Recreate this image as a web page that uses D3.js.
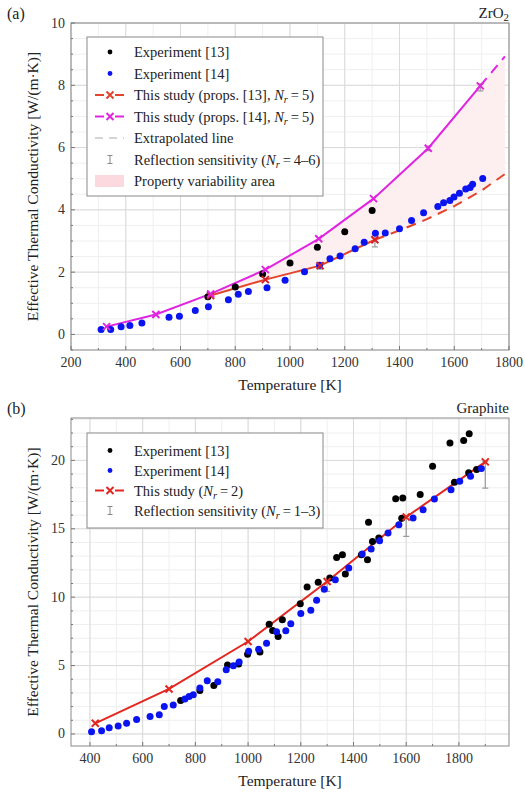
<!DOCTYPE html>
<meta charset="utf-8">
<script src="https://cdn.jsdelivr.net/npm/d3@7"></script>
<style>
  body { margin: 0; background: #fff; }
</style>
<div id="chart"></div>
<script>
// ---- panel (a) ZrO2 ----
var zrExp13T = [700, 800, 900, 1000, 1100, 1200, 1300];
var zrExp13K = [1.21, 1.52, 1.94, 2.29, 2.80, 3.30, 3.98];

var zrExp14T = [310, 345, 383, 415, 459, 558, 596, 654, 702, 775, 811, 848, 916, 982,
                1053, 1108, 1146, 1183, 1238, 1271, 1312, 1348, 1400, 1444, 1488, 1540,
                1561, 1584, 1599, 1619, 1642, 1658, 1667, 1704];
var zrExp14K = [0.16, 0.16, 0.25, 0.29, 0.37, 0.55, 0.58, 0.77, 0.89, 1.11, 1.29, 1.38, 1.50, 1.74,
                2.01, 2.22, 2.43, 2.52, 2.75, 2.96, 3.25, 3.26, 3.39, 3.66, 3.91, 4.11,
                4.23, 4.30, 4.41, 4.53, 4.67, 4.72, 4.82, 5.01];

var zrModel13T = [710, 910, 1110, 1310];
var zrModel13K = [1.25, 1.76, 2.21, 3.04];
var zrModel14T = [330, 510, 710, 910, 1105, 1305, 1505, 1695];
var zrModel14K = [0.25, 0.64, 1.30, 2.08, 3.07, 4.36, 5.98, 7.98];

var zrExtra13T = [1310, 1400, 1500, 1600, 1700, 1785];
var zrExtra13K = [3.04, 3.34, 3.70, 4.12, 4.62, 5.15];
var zrExtra14T = [1695, 1785];
var zrExtra14K = [7.98, 8.93];

var zrErrT  = [1110, 1310, 1505, 1695];
var zrErrLo = [2.10, 2.81, 5.90, 7.82];
var zrErrHi = [2.30, 3.20, 6.05, 8.05];

// ---- panel (b) graphite ----
var grExp13T = [744, 817, 870, 922, 964, 998, 1045, 1080, 1093, 1114, 1130, 1198, 1224, 1266,
                1310, 1336, 1358, 1369, 1430, 1453, 1457, 1472, 1496, 1560, 1587, 1583, 1653,
                1700, 1766, 1783, 1818, 1839, 1837, 1867];
var grExp13K = [2.44, 3.17, 3.54, 5.05, 5.12, 5.83, 6.00, 8.03, 7.56, 7.12, 8.35, 9.52, 10.74, 11.10,
                11.40, 12.90, 13.10, 11.69, 13.10, 12.74, 15.47, 14.08, 14.33, 17.20, 17.25, 15.77, 17.50,
                19.57, 21.28, 18.40, 21.46, 21.95, 19.10, 19.33];

var grExp14T = [406, 444, 473, 507, 539, 577, 628, 663, 682, 716, 760, 776, 792, 817, 845, 885,
                917, 944, 966, 1002, 1040, 1070, 1108, 1143, 1162, 1200, 1238, 1260, 1289, 1331,
                1382, 1433, 1467, 1499, 1531, 1572, 1626, 1664, 1707, 1770, 1803, 1844, 1885];
var grExp14K = [0.17, 0.24, 0.46, 0.59, 0.78, 1.05, 1.27, 1.41, 2.00, 2.12, 2.56, 2.73, 2.87, 3.36, 3.89, 3.82,
                4.69, 4.98, 5.26, 6.05, 6.20, 6.64, 7.47, 7.54, 8.06, 8.80, 9.05, 9.78, 10.58, 11.27,
                12.13, 13.16, 13.52, 14.13, 14.69, 15.30, 15.79, 16.40, 17.18, 17.86, 18.47, 18.84, 19.40];

var grModelT = [420, 700, 1000, 1300, 1600, 1900];
var grModelK = [0.78, 3.29, 6.76, 11.15, 15.86, 19.89];

var grErrT  = [1300, 1600, 1900];
var grErrLo = [10.42, 14.45, 17.98];
var grErrHi = [11.27, 15.90, 19.93];

// ticks
var zrXTicks = [200, 400, 600, 800, 1000, 1200, 1400, 1600, 1800];
var zrYTicks = [0, 2, 4, 6, 8, 10];
var grXTicks = [400, 600, 800, 1000, 1200, 1400, 1600, 1800];
var grYTicks = [0, 5, 10, 15, 20];

var RED = "#e3261f", RED_A = "#e2452c", MAG = "#e024e0", BLUE = "#0a14f0", GREY = "#9a9a9a";
var SERIF = "'Liberation Serif', 'Times New Roman', Times, 'DejaVu Serif', serif";

function pts(T, K) { return T.map(function (t, i) { return {t: t, k: K[i]}; }); }
function range(a, b, s) { var r = []; for (var v = a; v <= b + 1e-9; v += s) r.push(+v.toFixed(4)); return r; }

var svg = d3.select("#chart").append("svg").attr("width", 525).attr("height", 794)
  .attr("font-family", SERIF).style("font-family", SERIF);

// writes a label with italic N and subscript r parts
function richText(sel, parts) {
  parts.forEach(function (p) {
    var ts = sel.append("tspan").text(p.t);
    if (p.i) ts.style("font-style", "italic");
    if (p.sub) ts.attr("font-size", "0.72em").attr("dy", 3);
    if (p.up) ts.attr("dy", -3);
  });
}

function drawPanel(cfg) {
  var g = svg.append("g");
  var x = d3.scaleLinear().domain(cfg.xDomain).range([71, 509]);
  var y = d3.scaleLinear().domain(cfg.yDomain).range([cfg.bottom, cfg.top]);
  var line = d3.line().x(function (d) { return x(d.t); }).y(function (d) { return y(d.k); });

  var clipId = "clip" + cfg.id;
  g.append("clipPath").attr("id", clipId).append("rect")
    .attr("x", 71).attr("y", cfg.top).attr("width", 438).attr("height", cfg.bottom - cfg.top);

  // grid
  var grid = g.append("g");
  var xMin = range(cfg.xMinor[0], cfg.xMinor[1], cfg.xMinor[2]);
  var yMin = range(cfg.yMinor[0], cfg.yMinor[1], cfg.yMinor[2]);
  grid.selectAll(".vx").data(xMin).enter().append("line")
    .attr("x1", function (d) { return x(d); }).attr("x2", function (d) { return x(d); })
    .attr("y1", cfg.top).attr("y2", cfg.bottom).attr("stroke", "#efefef");
  grid.selectAll(".hy").data(yMin).enter().append("line")
    .attr("y1", function (d) { return y(d); }).attr("y2", function (d) { return y(d); })
    .attr("x1", 71).attr("x2", 509).attr("stroke", "#efefef");
  grid.selectAll(".vX").data(cfg.xTicks).enter().append("line")
    .attr("x1", function (d) { return x(d); }).attr("x2", function (d) { return x(d); })
    .attr("y1", cfg.top).attr("y2", cfg.bottom).attr("stroke", "#dadada");
  grid.selectAll(".hY").data(cfg.yTicks).enter().append("line")
    .attr("y1", function (d) { return y(d); }).attr("y2", function (d) { return y(d); })
    .attr("x1", 71).attr("x2", 509).attr("stroke", "#dadada");

  var plot = g.append("g").attr("clip-path", "url(#" + clipId + ")");
  if (cfg.draw) cfg.draw(plot, x, y, line);

  // frame and small inner ticks
  g.append("rect").attr("x", 71).attr("y", cfg.top).attr("width", 438)
    .attr("height", cfg.bottom - cfg.top).attr("fill", "none").attr("stroke", "#8a8a8a");
  g.selectAll(".tx").data(xMin).enter().append("line")
    .attr("x1", function (d) { return x(d); }).attr("x2", function (d) { return x(d); })
    .attr("y1", cfg.bottom).attr("y2", function (d) { return cfg.xTicks.indexOf(d) >= 0 ? cfg.bottom - 4 : cfg.bottom - 2; })
    .attr("stroke", "#777");
  g.selectAll(".ty").data(yMin).enter().append("line")
    .attr("y1", function (d) { return y(d); }).attr("y2", function (d) { return y(d); })
    .attr("x1", 71).attr("x2", function (d) { return cfg.yTicks.indexOf(d) >= 0 ? 75 : 73; })
    .attr("stroke", "#777");

  // tick labels
  g.selectAll(".xl").data(cfg.xTicks).enter().append("text")
    .attr("x", function (d) { return x(d); }).attr("y", cfg.bottom + 17)
    .attr("text-anchor", "middle").attr("font-size", 14).attr("fill", "#333").text(function (d) { return d; });
  g.selectAll(".yl").data(cfg.yTicks).enter().append("text")
    .attr("x", 65).attr("y", function (d) { return y(d) + 4.5; })
    .attr("text-anchor", "end").attr("font-size", 14).attr("fill", "#333").text(function (d) { return d; });

  // axis titles
  g.append("text").attr("x", 290).attr("y", cfg.bottom + 40).attr("text-anchor", "middle")
    .attr("font-size", 15.5).attr("fill", "#222").text("Temperature [K]");
  g.append("text").attr("transform", "translate(38," + ((cfg.top + cfg.bottom) / 2) + ") rotate(-90)")
    .attr("text-anchor", "middle").attr("font-size", 15.5).attr("fill", "#222")
    .text("Effective Thermal Conductivity [W/(m\u00b7K)]");

  // panel letter and material
  g.append("text").attr("x", 7).attr("y", cfg.top - 4).attr("font-size", 16).attr("fill", "#222").text(cfg.letter);
  var mt = g.append("text").attr("x", 509).attr("y", cfg.top - 5).attr("text-anchor", "end")
    .attr("font-size", 15).attr("fill", "#222");
  richText(mt, cfg.material);

  // legend
  var lg = g.append("g");
  lg.append("rect").attr("x", 87).attr("y", cfg.legTop).attr("width", 236)
    .attr("height", (cfg.legend.length - 1) * cfg.legStep + 2 * cfg.legPad)
    .attr("fill", "#fff").attr("stroke", "#8a8a8a");
  cfg.legend.forEach(function (it, i) {
    var cy = cfg.legTop + cfg.legPad + i * cfg.legStep;
    var row = lg.append("g");
    if (it.type === "dot") {
      row.append("circle").attr("cx", 110).attr("cy", cy).attr("r", 2.4).attr("fill", it.color);
    } else if (it.type === "linex") {
      row.append("line").attr("x1", 95).attr("x2", 124).attr("y1", cy).attr("y2", cy)
        .attr("stroke", it.color).attr("stroke-width", 2).attr("stroke-dasharray", "9,11");
      row.append("path").attr("transform", "translate(110," + cy + ")")
        .attr("d", "M-3.5,-3.5L3.5,3.5M-3.5,3.5L3.5,-3.5").attr("stroke", it.color).attr("stroke-width", 2);
    } else if (it.type === "dash") {
      row.append("line").attr("x1", 95).attr("x2", 124).attr("y1", cy).attr("y2", cy)
        .attr("stroke", "#c8c8c8").attr("stroke-width", 1.5).attr("stroke-dasharray", "8,6");
    } else if (it.type === "err") {
      row.append("path").attr("d", "M107.5," + (cy - 4) + "H112.5M110," + (cy - 4) + "V" + (cy + 4) + "M107.5," + (cy + 4) + "H112.5")
        .attr("stroke", "#888").attr("stroke-width", 1).attr("fill", "none");
    } else if (it.type === "area") {
      row.append("rect").attr("x", 95).attr("y", cy - 6).attr("width", 29).attr("height", 12).attr("fill", "#fbd9df");
    }
    var t = row.append("text").attr("x", 134).attr("y", cy + 5).attr("font-size", 14.5).attr("fill", "#222");
    richText(t, it.label);
  });
}

function crosses(sel, data, x, y, color) {
  sel.selectAll(null).data(data).enter().append("path")
    .attr("transform", function (d) { return "translate(" + x(d.t) + "," + y(d.k) + ")"; })
    .attr("d", "M-3.5,-3.5L3.5,3.5M-3.5,3.5L3.5,-3.5").attr("stroke", color).attr("stroke-width", 2);
}
function dots(sel, data, x, y, color) {
  sel.selectAll(null).data(data).enter().append("circle")
    .attr("cx", function (d) { return x(d.t); }).attr("cy", function (d) { return y(d.k); })
    .attr("r", 3.5).attr("fill", color);
}
function errBars(sel, T, lo, hi, x, y) {
  T.forEach(function (t, i) {
    var cx = x(t);
    sel.append("path")
      .attr("d", "M" + (cx - 3) + "," + y(lo[i]) + "H" + (cx + 3) + "M" + cx + "," + y(lo[i]) + "V" + y(hi[i]) +
                 "M" + (cx - 3) + "," + y(hi[i]) + "H" + (cx + 3))
      .attr("stroke", GREY).attr("stroke-width", 1.2).attr("fill", "none");
  });
}

var nr = function (pre, post) {
  return [{t: pre}, {t: "N", i: true}, {t: "r", i: true, sub: true}, {t: "\u2009=\u2009" + post, up: true}];
};

drawPanel({
  id: "a", letter: "(a)", top: 23, bottom: 350,
  xDomain: [200, 1800], yDomain: [-0.5, 10],
  xTicks: zrXTicks, yTicks: zrYTicks,
  xMinor: [200, 1800, 100], yMinor: [-0.5, 10, 0.5],
  material: [{t: "ZrO"}, {t: "2", sub: true}],
  legTop: 37, legStep: 21.5, legPad: 15,
  legend: [
    {type: "dot", color: "#000", label: [{t: "Experiment [13]"}]},
    {type: "dot", color: BLUE, label: [{t: "Experiment [14]"}]},
    {type: "linex", color: RED_A, label: nr("This study (props. [13], ", "5)")},
    {type: "linex", color: MAG, label: nr("This study (props. [14], ", "5)")},
    {type: "dash", label: [{t: "Extrapolated line"}]},
    {type: "err", label: nr("Reflection sensitivity (", "4\u20136)")},
    {type: "area", label: [{t: "Property variability area"}]}
  ],
  draw: function (p, x, y, line) {
    var m13 = pts(zrModel13T, zrModel13K), m14 = pts(zrModel14T, zrModel14K);
    var e13 = pts(zrExtra13T, zrExtra13K), e14 = pts(zrExtra14T, zrExtra14K);
    // variability area between the two model curves (from 710 K on)
    var upper = m14.filter(function (d) { return d.t >= 710; }).concat(e14.slice(1));
    var lower = m13.concat(e13.slice(1)).reverse();
    p.append("path").attr("d", line(upper.concat(lower)) + "Z").attr("fill", "#fdeef0");
    errBars(p, zrErrT, zrErrLo, zrErrHi, x, y);
    p.append("path").attr("d", line(e13)).attr("fill", "none").attr("stroke", RED_A)
      .attr("stroke-width", 2).attr("stroke-dasharray", "10,7");
    p.append("path").attr("d", line(e14)).attr("fill", "none").attr("stroke", MAG)
      .attr("stroke-width", 2).attr("stroke-dasharray", "10,7");
    p.append("path").attr("d", line(m13)).attr("fill", "none").attr("stroke", RED_A).attr("stroke-width", 2);
    p.append("path").attr("d", line(m14)).attr("fill", "none").attr("stroke", MAG).attr("stroke-width", 2);
    dots(p, pts(zrExp13T, zrExp13K), x, y, "#000");
    dots(p, pts(zrExp14T, zrExp14K), x, y, BLUE);
    crosses(p, m13, x, y, "#d8202a");
    crosses(p, m14, x, y, MAG);
  }
});

drawPanel({
  id: "b", letter: "(b)", top: 418, bottom: 746,
  xDomain: [328, 1990], yDomain: [-0.88, 23.1],
  xTicks: grXTicks, yTicks: grYTicks,
  xMinor: [400, 1900, 100], yMinor: [0, 23, 1],
  material: [{t: "Graphite"}],
  legTop: 433, legStep: 20, legPad: 17.5,
  legend: [
    {type: "dot", color: "#000", label: [{t: "Experiment [13]"}]},
    {type: "dot", color: BLUE, label: [{t: "Experiment [14]"}]},
    {type: "linex", color: RED, label: [{t: "This study ("}, {t: "N", i: true}, {t: "r", i: true, sub: true}, {t: "\u2009=\u20092)", up: true}]},
    {type: "err", label: nr("Reflection sensitivity (", "1\u20133)")}
  ],
  draw: function (p, x, y, line) {
    errBars(p, grErrT, grErrLo, grErrHi, x, y);
    p.append("path").attr("d", line(pts(grModelT, grModelK))).attr("fill", "none")
      .attr("stroke", RED).attr("stroke-width", 2);
    dots(p, pts(grExp13T, grExp13K), x, y, "#000");
    dots(p, pts(grExp14T, grExp14K), x, y, BLUE);
    crosses(p, pts(grModelT, grModelK), x, y, RED);
  }
});
</script>
